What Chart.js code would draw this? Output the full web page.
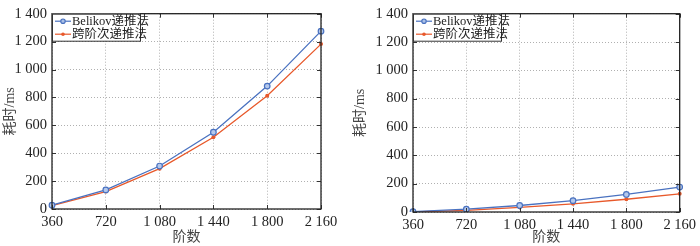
<!DOCTYPE html>
<html><head><meta charset="utf-8">
<script src="https://cdn.jsdelivr.net/npm/chart.js@4/dist/chart.umd.min.js"></script>
<style>
html,body{margin:0;padding:0;background:#fff;}
#wrap{position:relative;width:700px;height:246px;}
.c{position:absolute;top:0;width:350px;height:246px;}
</style></head>
<body><div id="wrap">
<div class="c" style="left:0"><canvas id="c1" width="350" height="246"></canvas></div>
<div class="c" style="left:350px"><canvas id="c2" width="350" height="246"></canvas></div>
</div>
<script>
const categories = ["360","720","1 080","1 440","1 800","2 160"];
const seriesNames = ["Belikov递推法","跨阶次递推法"];
const leftBelikov = [27, 137, 308, 550, 881, 1275];
const leftCross   = [25, 125, 289, 514, 812, 1182];
const rightBelikov = [3, 20, 46, 80, 124, 176];
const rightCross   = [1, 12, 33, 58, 90, 128];
const yTicks = [0,200,400,600,800,1000,1200,1400];
const xTitle = "阶数";
const yTitle = "耗时/ms";

const BLUE = "#4a72c0", RED = "#e8592b";
const SERIF = "'Liberation Serif','Noto Sans CJK SC',serif";

function fmt(v){ const s=String(v); return s.length>3 ? s.slice(0,s.length-3)+" "+s.slice(-3) : s; }

const framePlugin = {
  id:'frame',
  afterDraw(chart){
    const {ctx, chartArea:a, scales} = chart;
    ctx.save();
    ctx.strokeStyle = "#333"; ctx.lineWidth = 1;
    const L = 4;
    ctx.beginPath();
    scales.x.ticks.forEach((t,i)=>{
      const x = Math.round(scales.x.getPixelForTick(i))+0.5;
      ctx.moveTo(x,a.bottom); ctx.lineTo(x,a.bottom-L);
      ctx.moveTo(x,a.top); ctx.lineTo(x,a.top+L);
    });
    scales.y.ticks.forEach((t,i)=>{
      const y = Math.round(scales.y.getPixelForTick(i))+0.5;
      ctx.moveTo(a.left,y); ctx.lineTo(a.left+L,y);
      ctx.moveTo(a.right,y); ctx.lineTo(a.right-L,y);
    });
    ctx.stroke();
    ctx.strokeStyle = "#222"; ctx.lineWidth = 1.3;
    ctx.strokeRect(a.left, a.top, a.right-a.left, a.bottom-a.top);
    const bx = a.left, by = a.top, bw = 88, bh = 27;
    ctx.fillStyle = "#fff";
    ctx.fillRect(bx,by,bw,bh);
    ctx.lineWidth = 1; ctx.strokeStyle = "#333";
    ctx.strokeRect(bx+0.5,by+0.5,bw,bh);
    ctx.font = "12.5px " + SERIF;
    ctx.textBaseline = "middle";
    const items = [[seriesNames[0],BLUE,'o'],[seriesNames[1],RED,'*']];
    items.forEach((it,i)=>{
      const yy = by + 7.5 + i*13;
      ctx.strokeStyle = it[1]; ctx.lineWidth = 1.2;
      ctx.beginPath(); ctx.moveTo(bx+3,yy); ctx.lineTo(bx+19,yy); ctx.stroke();
      ctx.beginPath();
      if(it[2]==='o'){ ctx.fillStyle="#a9bfe6"; ctx.arc(bx+11,yy,2.2,0,Math.PI*2); ctx.fill(); ctx.stroke(); }
      else { ctx.fillStyle=it[1]; ctx.arc(bx+11,yy,1.8,0,Math.PI*2); ctx.fill(); }
      ctx.fillStyle = "#222";
      ctx.fillText(it[0], bx+20, yy+0.5);
    });
    ctx.restore();
  }
};

function make(id, b, r, pad, yw, xh){
  new Chart(document.getElementById(id), {
    type:'line',
    data:{
      labels: categories,
      datasets:[
        {label:seriesNames[0], data:b, borderColor:BLUE, backgroundColor:"#a9bfe6", borderWidth:1.3,
         pointRadius:2.8, pointBorderWidth:1.2, pointBorderColor:BLUE, pointBackgroundColor:"#b4c8ec", tension:0},
        {label:seriesNames[1], data:r, borderColor:RED, backgroundColor:RED, borderWidth:1.3,
         pointRadius:2, pointBorderWidth:0, pointBackgroundColor:RED, tension:0}
      ]
    },
    options:{
      responsive:false, animation:false, devicePixelRatio:1,
      layout:{padding:pad},
      plugins:{legend:{display:false}, tooltip:{enabled:false}},
      scales:{
        x:{
          type:'category', offset:false,
          grid:{color:"#b0b0b0", lineWidth:1, drawTicks:false},
          border:{display:false, dash:[1,2]},
          ticks:{color:"#222", font:{family:SERIF, size:14.5}, padding:4, maxRotation:0, autoSkip:false},
          title:{display:true, text:xTitle, color:"#444", font:{family:SERIF, size:14}, padding:{top:0,bottom:0}},
          afterFit(s){ s.height = xh; }
        },
        y:{
          min:0, max:1400,
          afterBuildTicks(s){ s.ticks = yTicks.map(v=>({value:v})); },
          grid:{color:"#b0b0b0", lineWidth:1, drawTicks:false},
          border:{display:false, dash:[1,2]},
          ticks:{color:"#222", font:{family:SERIF, size:14.5}, padding:5, callback:(v)=>fmt(v)},
          title:{display:true, text:yTitle, color:"#444", font:{family:SERIF, size:14}, padding:{top:2,bottom:2}},
          afterFit(s){ s.width = yw; }
        }
      }
    },
    plugins:[framePlugin]
  });
}
make('c1', leftBelikov, leftCross, {top:5,right:29,left:0,bottom:0}, 52, 37);
make('c2', rightBelikov, rightCross, {top:9,right:18,left:0,bottom:0}, 63, 34);
</script>
</body></html>
